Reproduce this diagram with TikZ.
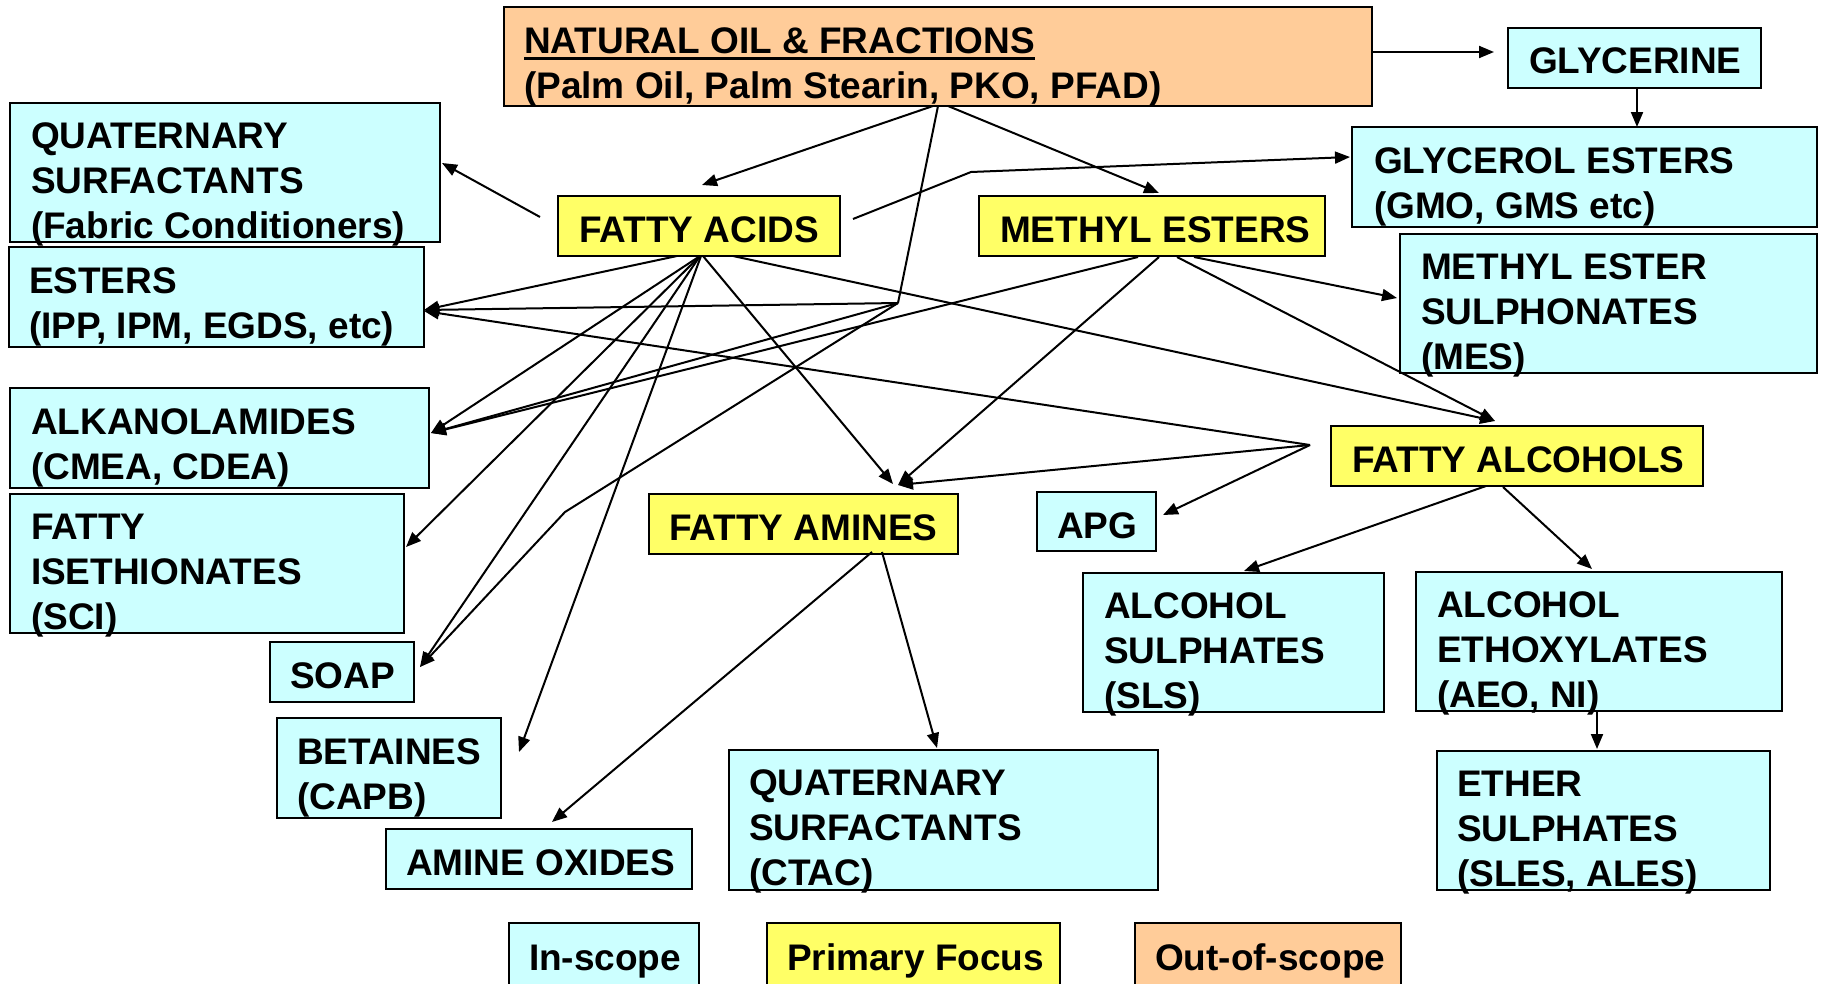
\documentclass[tikz,border=0pt]{standalone}
\usepackage{fontspec}
\setmainfont{Liberation Sans}
\usetikzlibrary{arrows.meta,calc}
\definecolor{inscope}{HTML}{CCFFFF}
\definecolor{focus}{HTML}{FFFF66}
\definecolor{outscope}{HTML}{FFCC99}
\newcommand{\ml}[1]{\begin{tabular}[t]{@{}l@{}}#1\end{tabular}}
\newlength\ulw
\newcommand\myul[1]{\settowidth\ulw{#1}\rlap{\rule[-7pt]{\ulw}{3pt}}#1}
\newcommand\bx[6]{\node[#1, minimum width={(#5)-(#3)}, minimum height={(#6)-(#4)}] (#2) at ({((#3)+(#5))/2},{((#4)+(#6))/2}) {};}
\begin{document}
\begin{tikzpicture}[x=1pt,y=-1pt,
  box/.style={draw=black, line width=2.2pt, inner sep=0pt, outer sep=0pt},
  cbox/.style={box, fill=inscope},
  ybox/.style={box, fill=focus},
  obox/.style={box, fill=outscope},
  lbl/.style={anchor=base west, inner sep=0pt, outer sep=0pt, font=\fontsize{37}{45}\selectfont\bfseries},
  seg/.style={line width=2pt, line join=miter},
  conn/.style={seg, -{Triangle[length=15pt,width=12pt]}}]
\path[use as bounding box, fill=white] (0,0) rectangle (1823,983);
\clip (0,0) rectangle (1823,983);

% boxes
\bx{obox}{oil}{504}{7}{1372}{106}
\bx{cbox}{glycerine}{1508}{28}{1761}{88}
\bx{cbox}{quatF}{10}{103}{440}{242}
\bx{ybox}{facids}{558}{196}{840}{256}
\bx{ybox}{mesters}{979}{196}{1325}{256}
\bx{cbox}{glyest}{1352}{127}{1817}{227}
\bx{cbox}{esters}{9}{247}{424}{347}
\bx{cbox}{mes}{1400}{234}{1817}{373}
\bx{cbox}{alkan}{10}{388}{429}{488}
\bx{ybox}{falc}{1331}{426}{1703}{486}
\bx{cbox}{iseth}{10}{494}{404}{633}
\bx{ybox}{famines}{649}{494}{958}{554}
\bx{cbox}{apg}{1037}{492}{1156}{551}
\bx{cbox}{alcsul}{1083}{573}{1384}{712}
\bx{cbox}{alceth}{1416}{572}{1782}{711}
\bx{cbox}{soap}{270}{642}{414}{702}
\bx{cbox}{betaines}{277}{718}{501}{818}
\bx{cbox}{amox}{386}{829}{692}{889}
\bx{cbox}{quatC}{729}{750}{1158}{890}
\bx{cbox}{ethsul}{1437}{751}{1770}{890}
\bx{cbox}{legin}{509}{923}{699}{986}
\bx{ybox}{legfocus}{767}{923}{1060}{986}
\bx{obox}{legout}{1135}{923}{1401}{986}

% texts
\node[lbl] (oil-t) at ($(oil.north west)+(20,46)$) {\ml{\myul{NATURAL OIL \& FRACTIONS}\\(Palm Oil, Palm Stearin, PKO, PFAD)}};
\node[lbl] (glycerine-t) at ($(glycerine.north west)+(21,45)$) {GLYCERINE};
\node[lbl] (quatF-t) at ($(quatF.north west)+(21,45)$) {\ml{QUATERNARY\\SURFACTANTS\\(Fabric Conditioners)}};
\node[lbl] (facids-t) at ($(facids.north west)+(21,46)$) {FATTY ACIDS};
\node[lbl] (mesters-t) at ($(mesters.north west)+(21,46)$) {METHYL ESTERS};
\node[lbl] (glyest-t) at ($(glyest.north west)+(22,46)$) {\ml{GLYCEROL ESTERS\\(GMO, GMS etc)}};
\node[lbl] (esters-t) at ($(esters.north west)+(20,46)$) {\ml{ESTERS\\(IPP, IPM, EGDS, etc)}};
\node[lbl] (mes-t) at ($(mes.north west)+(21,45)$) {\ml{METHYL ESTER\\SULPHONATES\\(MES)}};
\node[lbl] (alkan-t) at ($(alkan.north west)+(21,46)$) {\ml{ALKANOLAMIDES\\(CMEA, CDEA)}};
\node[lbl] (falc-t) at ($(falc.north west)+(21,46)$) {FATTY ALCOHOLS};
\node[lbl] (iseth-t) at ($(iseth.north west)+(21,45)$) {\ml{FATTY\\ISETHIONATES\\(SCI)}};
\node[lbl] (famines-t) at ($(famines.north west)+(20,46)$) {FATTY AMINES};
\node[lbl] (apg-t) at ($(apg.north west)+(20,46)$) {APG};
\node[lbl] (alcsul-t) at ($(alcsul.north west)+(21,45)$) {\ml{ALCOHOL\\SULPHATES\\(SLS)}};
\node[lbl] (alceth-t) at ($(alceth.north west)+(21,45)$) {\ml{ALCOHOL\\ETHOXYLATES\\(AEO, NI)}};
\node[lbl] (soap-t) at ($(soap.north west)+(20,46)$) {SOAP};
\node[lbl] (betaines-t) at ($(betaines.north west)+(20,46)$) {\ml{BETAINES\\(CAPB)}};
\node[lbl] (amox-t) at ($(amox.north west)+(20,46)$) {AMINE OXIDES};
\node[lbl] (quatC-t) at ($(quatC.north west)+(20,45)$) {\ml{QUATERNARY\\SURFACTANTS\\(CTAC)}};
\node[lbl] (ethsul-t) at ($(ethsul.north west)+(20,45)$) {\ml{ETHER\\SULPHATES\\(SLES, ALES)}};
\node[lbl] (legin-t) at ($(legin.north west)+(20,47)$) {In-scope};
\node[lbl] (legfocus-t) at ($(legfocus.north west)+(20,47)$) {Primary Focus};
\node[lbl] (legout-t) at ($(legout.north west)+(20,47)$) {Out-of-scope};

% junction points
\coordinate (J) at ($(oil.north west)+(394,296)$);
\coordinate (JA) at ($(falc.north west)+(-21,19)$);
\coordinate (B1) at (971,172);
\coordinate (B2) at (565,512);

% connectors
\draw[conn] ($(oil.north west)+(868,45)$) -- ($(glycerine.north west)+(-14,24)$);
\draw[conn] ($(glycerine.north west)+(129,60)$) -- ($(glyest.north west)+(285,0)$);
\draw[conn] ($(oil.north west)+(429,99)$) -- ($(facids.north west)+(144,-11)$);
\draw[conn] ($(oil.north west)+(444,99)$) -- ($(mesters.north west)+(180,-3)$);
\draw[seg] ($(oil.north west)+(434,99)$) -- (J);
\draw[conn] (J) -- ($(esters.north west)+(415,63)$);
\draw[conn] (J) -- ($(alkan.north west)+(421,45)$);
\draw[conn] (J) -- (B2) -- ($(soap.north west)+(150,25)$);

\draw[conn] ($(facids.north west)+(-18,21)$) -- ($(quatF.north west)+(432,60)$);
\draw[conn] ($(facids.north west)+(295,23)$) -- (B1) -- ($(glyest.north west)+(-2,30)$);
\draw[conn] ($(facids.north west)+(119,60)$) -- ($(esters.north west)+(415,63)$);
\draw[conn] ($(facids.north west)+(142,60)$) -- ($(alkan.north west)+(421,45)$);
\draw[conn] ($(facids.north west)+(142,60)$) -- ($(iseth.north west)+(396,53)$);
\draw[conn] ($(facids.north west)+(142,60)$) -- ($(soap.north west)+(150,25)$);
\draw[conn] ($(facids.north west)+(143,60)$) -- ($(betaines.north west)+(242,34)$);
\draw[conn] ($(facids.north west)+(145,60)$) -- ($(famines.north west)+(244,-10)$);
\draw[conn] ($(facids.north west)+(175,60)$) -- ($(falc.north west)+(164,-5)$);

\draw[conn] ($(mesters.north west)+(159,61)$) -- ($(alkan.north west)+(421,45)$);
\draw[conn] ($(mesters.north west)+(180,61)$) -- ($(famines.north west)+(249,-9)$);
\draw[conn] ($(mesters.north west)+(198,61)$) -- ($(falc.north west)+(164,-5)$);
\draw[conn] ($(mesters.north west)+(215,61)$) -- ($(mes.north west)+(-3,64)$);

\draw[conn] (JA) -- ($(esters.north west)+(415,64)$);
\draw[conn] (JA) -- ($(famines.north west)+(249,-9)$);
\draw[conn] (JA) -- ($(apg.north west)+(126,23)$);
\draw[conn] ($(falc.north west)+(155,60)$) -- ($(alcsul.north west)+(161,-2)$);
\draw[conn] ($(falc.north west)+(172,61)$) -- ($(alceth.north west)+(176,-3)$);
\draw[conn] ($(alceth.north west)+(181,139)$) -- ($(ethsul.north west)+(160,-2)$);

\draw[conn] ($(famines.north west)+(223,58)$) -- ($(amox.north west)+(166,-7)$);
\draw[conn] ($(famines.north west)+(233,58)$) -- ($(quatC.north west)+(208,-2)$);
\end{tikzpicture}
\end{document}
